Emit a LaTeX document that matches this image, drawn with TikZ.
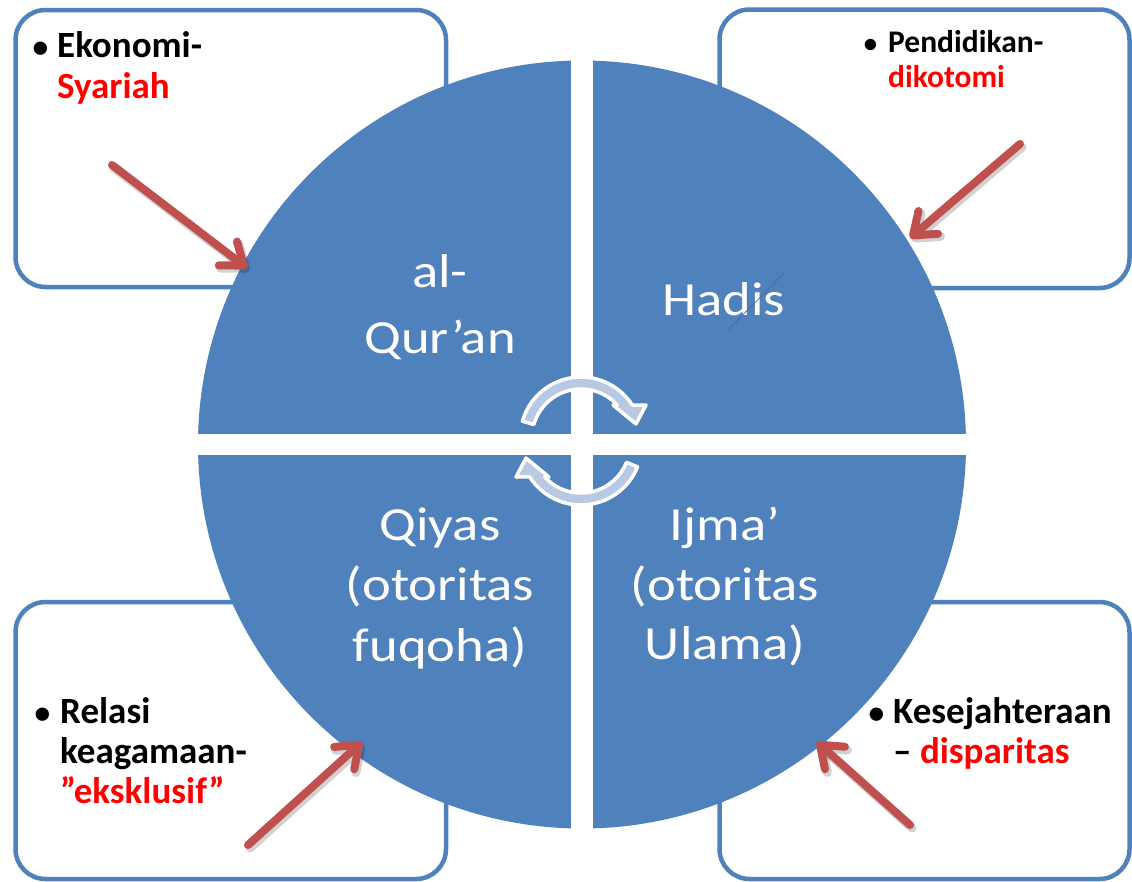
\documentclass[tikz,border=0pt]{standalone}
\usepackage{fontspec}
\setmainfont{Carlito}
\newfontfamily\circfont[FakeStretch=1.15]{Carlito}
\usetikzlibrary{arrows.meta}

\definecolor{quadblue}{RGB}{79,129,189}
\definecolor{frameblue}{RGB}{79,129,189}
\definecolor{arrowred}{RGB}{192,80,77}
\definecolor{cyclefill}{RGB}{185,201,228}
\definecolor{hotred}{RGB}{255,0,0}
\definecolor{ghostblue}{RGB}{66,108,168}

\newcommand{\itemdot}[1]{\llap{\scalebox{0.85}{\textbullet}\hspace{#1}}}

\begin{document}
\begin{tikzpicture}[x=1pt,y=-1pt,
  frame/.style={draw=frameblue, line width=4.5pt, rounded corners=30pt},
  cyclearrow/.style={fill=cyclefill, draw=white, line width=3.5pt, line join=round},
  redarrow/.style={draw=arrowred, line width=8pt, line cap=round,
    -{Straight Barb[length=20pt,width=30pt,round]}},
  arrowshadow/.style={draw=black, opacity=0.18, line width=9pt, line cap=round,
    -{Straight Barb[length=20pt,width=30pt,round]}},
  circtext/.style={text=white, anchor=base, inner sep=0pt,
    font=\circfont\fontsize{47.5}{57}\selectfont},
  boxtext/.style={anchor=base west, inner sep=0pt,
    font=\bfseries\fontsize{37}{40}\selectfont},
  boxtextsmall/.style={anchor=base west, inner sep=0pt,
    font=\bfseries\fontsize{31.5}{35}\selectfont},
  accent/.style={text=hotred}
]
\useasboundingbox (0,0) rectangle (1132,881);

% corner frames behind the disc
\draw[frame] (15.5,10) rectangle (446,287);
\draw[frame] (719.5,9.5) rectangle (1129.5,288);
\draw[frame] (15.5,602) rectangle (446,879);
\draw[frame] (719.5,602) rectangle (1129.5,879);

% the disc split into four quarters
\coordinate (mid) at (582,444.5);
\fill[quadblue] (mid) circle (384);
\fill[white] (571,50) rectangle (593,840);
\fill[white] (190,434) rectangle (975,455);

% quarter labels
\node[circtext] (q1a) at (440,287.5) {al-};
\node[circtext] (q1b) at (440,353) {Qur’an};
\node[circtext] (q2a) at (724,315) {Hadis};
\node[circtext] (q3a) at (440,540) {Qiyas};
\node[circtext] (q3b) at (440,600) {(otoritas};
\node[circtext] (q3c) at (440,661) {fuqoha)};
\node[circtext] (q4a) at (725,540) {Ijma’};
\node[circtext] (q4b) at (725,600) {(otoritas};
\node[circtext] (q4c) at (725,659) {Ulama)};

% faint stray stroke over the Hadis label
\coordinate (gh0) at (785,272);
\coordinate (gh1) at (728,330);
\draw[ghostblue, line width=1pt, opacity=0.8] (gh0) -- (gh1);

% circular arrows at the centre
\coordinate (ctop) at (581,438);
\coordinate (cbot) at (581,444);
\filldraw[cyclearrow] ([shift={(196:61)}]ctop) arc[start angle=196, end angle=327.3, radius=61]
  -- (646,405) -- (636,424) -- (613,405)
  -- ([shift={(317.7:49)}]ctop) arc[start angle=317.7, end angle=196, radius=49] -- cycle;
\filldraw[cyclearrow] ([shift={(22:61)}]cbot) arc[start angle=22, end angle=147.3, radius=61]
  -- (516,477) -- (526,458) -- (549,477)
  -- ([shift={(137.7:49)}]cbot) arc[start angle=137.7, end angle=22, radius=49] -- cycle;

% corner texts
\node[boxtext] (tl1) at (57,57) {\itemdot{9pt}Ekonomi-};
\node[boxtext, accent] (tl2) at (57,98) {Syariah};

\node[boxtextsmall] (tr1) at (888,52) {\itemdot{11pt}Pendidikan-};
\node[boxtextsmall, accent] (tr2) at (888,87) {dikotomi};

\node[boxtext] (bl1) at (60,723) {\itemdot{10pt}Relasi};
\node[boxtext] (bl2) at (60,763) {keagamaan-};
\node[boxtext, accent] (bl3) at (60,803) {”eksklusif”};

\node[boxtext] (br1) at (893,723) {\itemdot{9pt}Kesejahteraan};
\node[boxtext] (br2) at (893,763) {– \textcolor{hotred}{disparitas}};

% red pointers from each frame into the disc
\coordinate (a1s) at (112,165);  \coordinate (a1e) at (247,268);
\coordinate (a2s) at (1020,144); \coordinate (a2e) at (910,238);
\coordinate (a3s) at (248,845);  \coordinate (a3e) at (362,742);
\coordinate (a4s) at (910,825);  \coordinate (a4e) at (817,742);
\foreach \s/\e in {a1s/a1e, a2s/a2e, a3s/a3e, a4s/a4e}{
  \draw[arrowshadow] ([shift={(2,3)}]\s) -- ([shift={(2,3)}]\e);
}
\foreach \s/\e in {a1s/a1e, a2s/a2e, a3s/a3e, a4s/a4e}{
  \draw[redarrow] (\s) -- (\e);
}
\end{tikzpicture}
\end{document}
